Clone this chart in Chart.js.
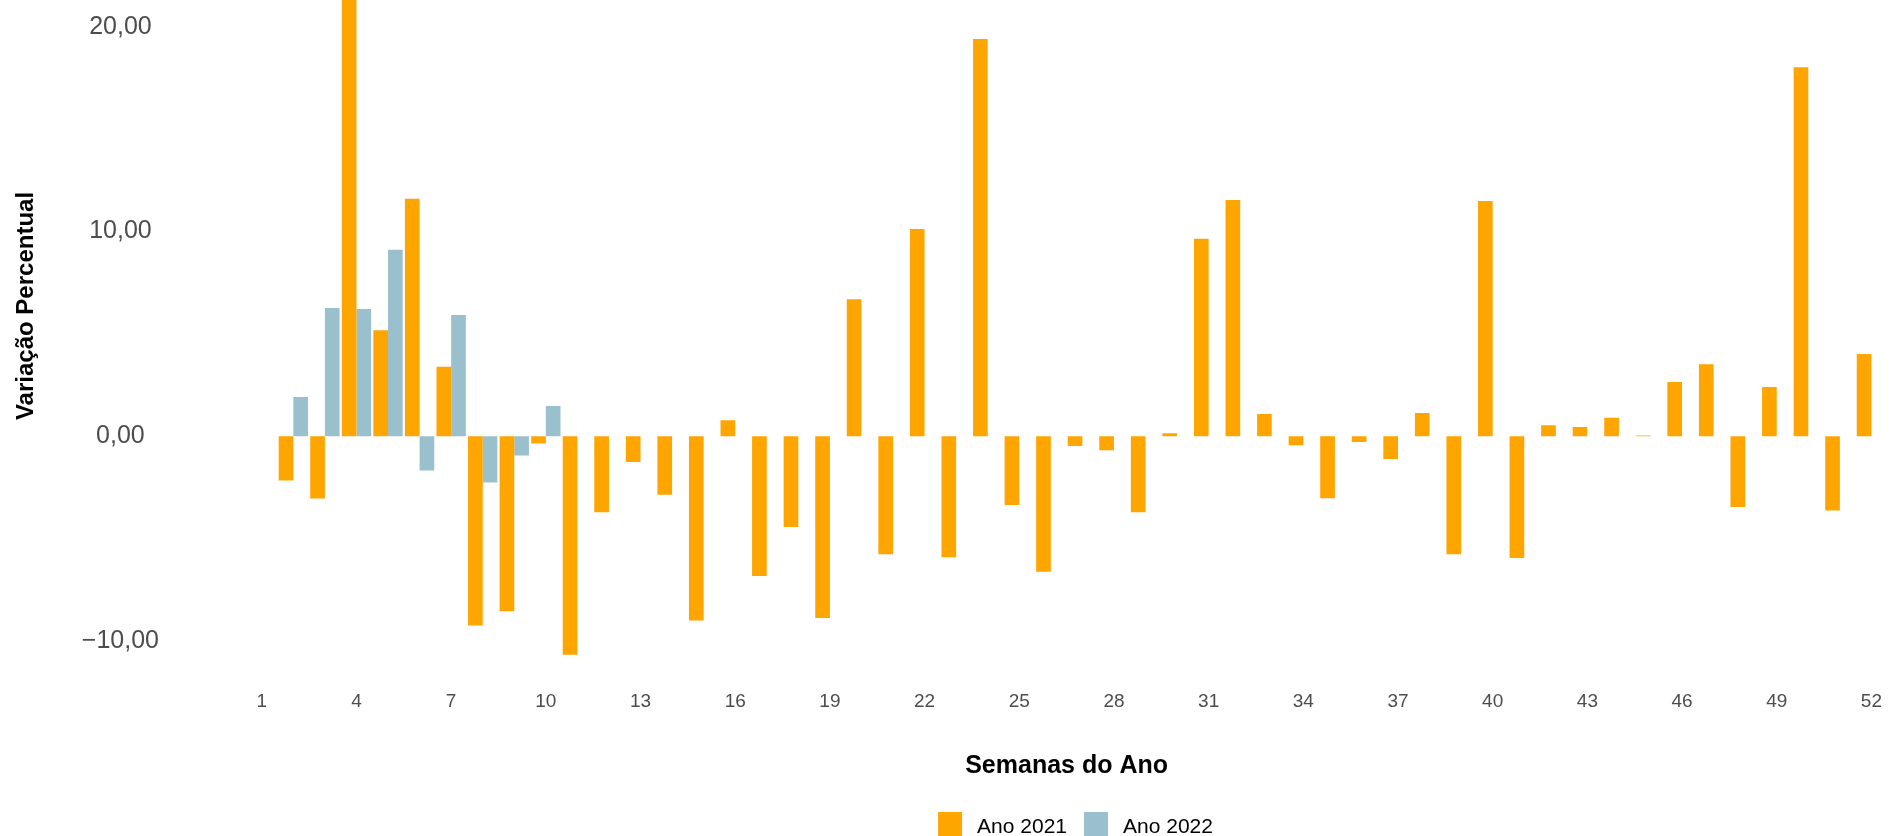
<!DOCTYPE html>
<html>
<head>
<meta charset="utf-8">
<script src="https://cdn.jsdelivr.net/npm/chart.js@4/dist/chart.umd.min.js"></script>
<style>
  html, body { margin: 0; padding: 0; background: #fff; }
  #wrap { width: 1890px; height: 836px; }
</style>
</head>
<body>
<div id="wrap"><canvas id="chart"></canvas></div>
<script>
'use strict';

// semanas do ano
var weeks = ['1', '2', '3', '4', '5', '6', '7', '8', '9', '10',
  '11', '12', '13', '14', '15', '16', '17', '18', '19', '20',
  '21', '22', '23', '24', '25', '26', '27', '28', '29', '30',
  '31', '32', '33', '34', '35', '36', '37', '38', '39', '40',
  '41', '42', '43', '44', '45', '46', '47', '48', '49', '50',
  '51', '52'];

// variacao percentual semanal
var ano2021 = [null, -2.16, -3.04, 23.5, 5.18, 11.59, 3.39, -9.24, -8.55, -0.36,
  -10.67, -3.71, -1.26, -2.86, -9.00, 0.78, -6.82, -4.43, -8.87, 6.69,
  -5.76, 10.12, -5.91, 19.40, -3.36, -6.62, -0.48, -0.68, -3.71, 0.15,
  9.64, 11.53, 1.09, -0.44, -3.03, -0.28, -1.11, 1.13, -5.76, 11.49,
  -5.95, 0.54, 0.45, 0.90, 0.04, 2.65, 3.52, -3.45, 2.40, 18.02,
  -3.63, 4.01];
var ano2022 = [null, 1.91, 6.26, 6.21, 9.10, -1.67, 5.92, -2.26, -0.94, 1.48];

var seriesNames = ['Ano 2021', 'Ano 2022'];
var seriesColors = ['#FFA500', '#9AC0CD'];
var yTicks = [-10, 0, 10, 20];

var FONT = "'Liberation Sans', Arial, sans-serif";

function fmtNumber(v) {
  var s = Math.abs(v).toFixed(2).replace('.', ',');
  return v < 0 ? '\u2212' + s : s;
}

// axis titles + legend, placed like the ggplot original
var decorations = {
  id: 'decorations',
  afterDraw: function (chart) {
    var ctx = chart.ctx;
    var area = chart.chartArea;
    ctx.save();
    ctx.fillStyle = '#000';

    // y title
    ctx.save();
    ctx.translate(33, 306);
    ctx.rotate(-Math.PI / 2);
    ctx.font = 'bold 24px ' + FONT;
    ctx.textAlign = 'center';
    ctx.textBaseline = 'alphabetic';
    ctx.fillText('Variação Percentual', 0, 0);
    ctx.restore();

    // x title
    ctx.font = 'bold 25px ' + FONT;
    ctx.textAlign = 'center';
    ctx.textBaseline = 'alphabetic';
    ctx.fillText('Semanas do Ano', (area.left + area.right) / 2, 773);

    // legend
    ctx.font = '21px ' + FONT;
    ctx.textAlign = 'left';
    var box = 24, gap = 15, spacing = 17;
    var widths = seriesNames.map(function (n) { return ctx.measureText(n).width; });
    var total = 0;
    widths.forEach(function (w, i) { total += box + gap + w + (i ? spacing : 0); });
    var x = 1075.5 - total / 2;
    seriesNames.forEach(function (name, i) {
      ctx.fillStyle = seriesColors[i];
      ctx.fillRect(x, 812, box, box);
      ctx.fillStyle = '#000';
      ctx.fillText(name, x + box + gap, 833);
      x += box + gap + widths[i] + spacing;
    });
    ctx.restore();
  }
};

var ctx = document.getElementById('chart').getContext('2d');
new Chart(ctx, {
  type: 'bar',
  data: {
    labels: weeks,
    datasets: [
      { label: seriesNames[0], data: ano2021, backgroundColor: seriesColors[0] },
      { label: seriesNames[1], data: ano2022, backgroundColor: seriesColors[1] }
    ]
  },
  options: {
    responsive: true,
    maintainAspectRatio: false,
    animation: false,
    layout: { padding: { top: 0, left: 0, right: 0, bottom: 123 } },
    datasets: { bar: { categoryPercentage: 0.93, barPercentage: 1.0, borderWidth: 0 } },
    plugins: {
      legend: { display: false },
      tooltip: { enabled: false }
    },
    scales: {
      x: {
        grid: { display: false, drawTicks: false },
        border: { display: false },
        ticks: {
          autoSkip: false,
          maxRotation: 0,
          padding: 8,
          color: '#4D4D4D',
          font: { family: FONT, size: 19 },
          callback: function (val, idx) {
            return idx % 3 === 0 ? this.getLabelForValue(val) : '';
          }
        },
        afterFit: function (scale) { scale.height = 31; }
      },
      y: {
        min: -12,
        max: 21.3,
        grid: { display: false, drawTicks: false },
        border: { display: false },
        afterBuildTicks: function (scale) {
          scale.ticks = yTicks.map(function (v) { return { value: v }; });
        },
        ticks: {
          crossAlign: 'center',
          padding: 87,
          color: '#4D4D4D',
          font: { family: FONT, size: 25 },
          callback: function (v) { return fmtNumber(v); }
        },
        afterFit: function (scale) {
          // the big label padding is only meant to push labels left, not to shrink the plot
          scale.width = 246;
          scale.paddingTop = 0;
          scale.paddingBottom = 0;
        }
      }
    }
  },
  plugins: [decorations]
});
</script>
</body>
</html>
